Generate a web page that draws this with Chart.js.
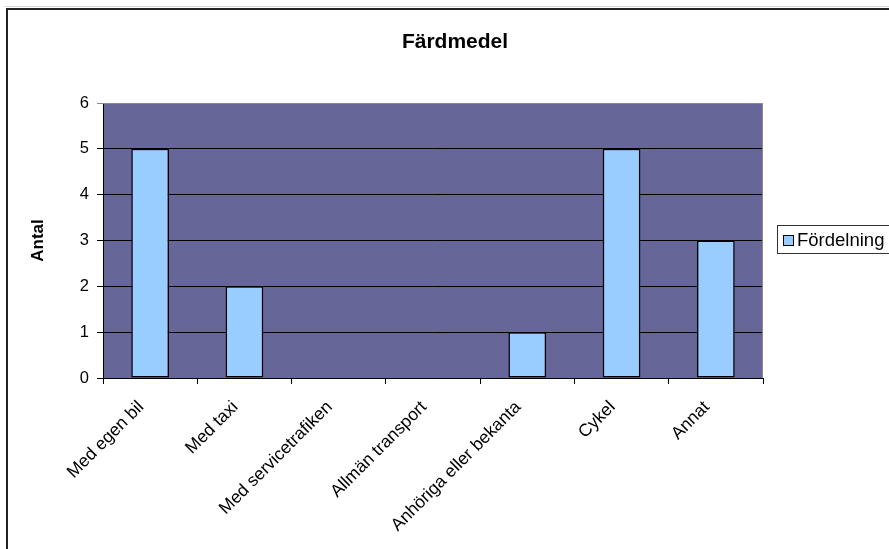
<!DOCTYPE html>
<html>
<head>
<meta charset="utf-8">
<script src="https://cdn.jsdelivr.net/npm/chart.js@4/dist/chart.umd.min.js"></script>
<style>
  html, body { margin: 0; padding: 0; background: #ffffff; }
  #wrap { width: 889px; height: 549px; position: relative; }
</style>
</head>
<body>
<div id="wrap"><canvas id="c" width="889" height="549"></canvas></div>
<script>
// Travel modes and how many chose each
const categories = ['Med egen bil', 'Med taxi', 'Med servicetrafiken', 'Allmän transport', 'Anhöriga eller bekanta', 'Cykel', 'Annat'];
const counts = [5, 2, 0, 0, 1, 5, 3];
const seriesName = 'Fördelning';
const chartTitle = 'Färdmedel';
const yTitle = 'Antal';
const yTicks = [0, 1, 2, 3, 4, 5, 6];

const FONT = "'Liberation Sans', Arial, sans-serif";
const PLOT_BG = '#666699';
const BAR_FILL = '#99CCFF';

// Frame, plot background, title and boxed legend
const decor = {
  id: 'decor',
  beforeDraw(chart) {
    const { ctx, chartArea: a } = chart;
    ctx.save();
    ctx.fillStyle = '#ffffff';
    ctx.fillRect(0, 0, chart.width, chart.height);
    // outer frame (runs past the right and bottom edges)
    ctx.strokeStyle = '#d8d8d8';
    ctx.lineWidth = 1;
    ctx.beginPath(); ctx.moveTo(5, 6.5); ctx.lineTo(chart.width, 6.5); ctx.stroke();
    ctx.strokeStyle = '#222222';
    ctx.lineWidth = 2;
    ctx.beginPath();
    ctx.moveTo(7, chart.height + 2);
    ctx.lineTo(7, 9);
    ctx.lineTo(chart.width + 2, 9);
    ctx.stroke();
    // plot area
    ctx.fillStyle = PLOT_BG;
    ctx.fillRect(a.left, a.top, a.right - a.left, a.bottom - a.top);
    ctx.restore();
  },
  afterDraw(chart) {
    const { ctx, chartArea: a } = chart;
    ctx.save();
    // plot area border on top and right
    ctx.strokeStyle = '#8a8a8a';
    ctx.lineWidth = 1;
    ctx.beginPath();
    ctx.moveTo(a.left, a.top + 0.5);
    ctx.lineTo(a.right - 0.5, a.top + 0.5);
    ctx.lineTo(a.right - 0.5, a.bottom);
    ctx.stroke();
    // title
    ctx.fillStyle = '#000000';
    ctx.font = 'bold 21px ' + FONT;
    ctx.textAlign = 'center';
    ctx.textBaseline = 'middle';
    ctx.fillText(chartTitle, 455, 42);
    // legend
    ctx.strokeStyle = '#333333';
    ctx.lineWidth = 1;
    ctx.fillStyle = '#ffffff';
    ctx.fillRect(777.5, 225.5, 130, 28);
    ctx.strokeRect(777.5, 225.5, 130, 28);
    const ds = chart.data.datasets[0];
    ctx.fillStyle = ds.backgroundColor;
    ctx.fillRect(783.5, 235.5, 10, 10);
    ctx.strokeStyle = '#000000';
    ctx.strokeRect(783.5, 235.5, 10, 10);
    ctx.fillStyle = '#000000';
    ctx.font = '18.5px ' + FONT;
    ctx.textAlign = 'left';
    ctx.fillText(ds.label, 797, 241);
    ctx.restore();
  }
};

new Chart(document.getElementById('c'), {
  type: 'bar',
  data: {
    labels: categories,
    datasets: [{
      label: seriesName,
      data: counts,
      backgroundColor: BAR_FILL,
      borderColor: '#000000',
      borderWidth: 1.5,
      borderSkipped: false,
      barPercentage: 0.4,
      categoryPercentage: 1.0
    }]
  },
  options: {
    responsive: false,
    animation: false,
    devicePixelRatio: 1,
    layout: { padding: { top: 103, right: 126, left: 0, bottom: 0 } },
    plugins: {
      legend: { display: false },
      title: { display: false },
      tooltip: { enabled: false }
    },
    scales: {
      x: {
        offset: true,
        afterFit(scale) { scale.height = 171; },
        grid: {
          offset: true,
          drawOnChartArea: false,
          drawTicks: true,
          tickLength: 6,
          color: '#000000'
        },
        border: { display: true, color: '#000000', width: 1 },
        ticks: {
          minRotation: 45,
          maxRotation: 45,
          autoSkip: false,
          padding: 13,
          labelOffset: -9,
          color: '#000000',
          font: { family: FONT, size: 17.5 }
        }
      },
      y: {
        min: 0,
        max: 6,
        afterFit(scale) { scale.width = 103; },
        afterBuildTicks(scale) { scale.ticks = yTicks.map(v => ({ value: v })); },
        grid: {
          drawTicks: true,
          tickLength: 6,
          color: (c) => (c.tick && c.tick.value === 6 ? '#8a8a8a' : '#000000')
        },
        border: { display: true, color: '#000000', width: 1 },
        ticks: {
          padding: 8,
          color: '#000000',
          font: { family: FONT, size: 16.5 }
        },
        title: {
          display: true,
          text: yTitle,
          color: '#000000',
          font: { family: FONT, size: 17, weight: 'bold' },
          padding: { top: 28, bottom: 0 }
        }
      }
    }
  },
  plugins: [decor]
});
</script>
</body>
</html>
